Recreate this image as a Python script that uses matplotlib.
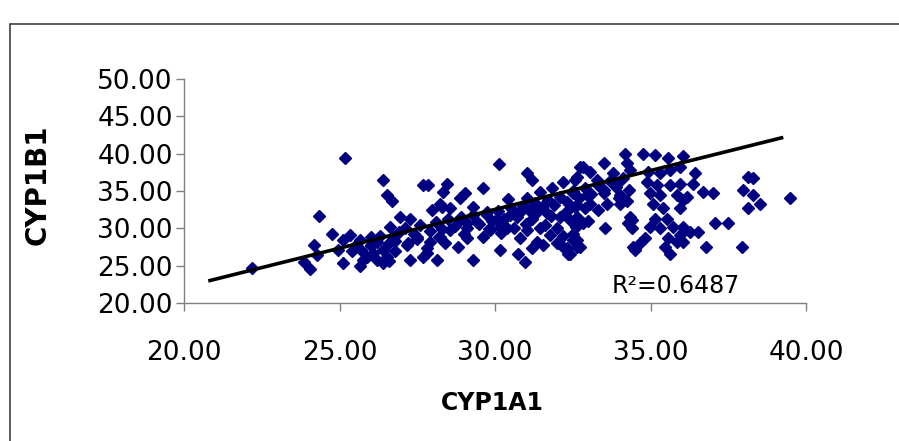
import numpy as np
import matplotlib
matplotlib.use("Agg")
import matplotlib.pyplot as plt
from matplotlib.patches import Rectangle

# ---- data ----
cyp1a1 = [
    22.20, 23.85, 24.05, 24.18, 24.27, 24.35, 24.75, 24.96, 25.12,
    25.12, 25.18, 25.34, 25.66, 25.66, 25.77, 26.20, 26.41, 26.52, 26.78,
    26.41, 26.41, 26.52, 26.68, 26.62, 26.73, 26.95, 27.27, 27.16, 27.48,
    27.27, 27.70, 27.80, 27.91, 28.13, 28.23, 28.55, 28.87, 27.70, 27.86,
    28.45, 28.34, 28.87, 29.03, 29.62, 27.96, 28.23, 28.55, 28.29, 29.30,
    29.09, 26.09, 25.50, 26.00,
    30.14, 31.02, 31.18, 32.20, 32.63, 32.73, 31.82, 31.45, 30.43, 31.02,
    29.30, 29.73, 30.05, 30.48, 30.80, 31.34, 31.66, 32.09, 32.41, 32.57,
    29.09, 29.41, 29.84, 30.16, 30.80, 31.02, 31.45, 31.77, 31.34, 31.18,
    31.55, 31.98, 32.30, 30.75, 30.96, 30.16, 32.52, 32.41, 32.20, 32.36,
    32.73, 32.63, 33.54, 34.40, 34.45, 34.24, 32.84, 33.49,
    34.18, 34.77, 35.14, 35.57, 36.06, 33.05, 33.80, 34.34, 34.93, 35.30,
    35.63, 35.95, 32.57, 33.27, 33.91, 34.88, 35.20, 35.63, 35.95, 32.52,
    32.95, 33.49, 34.02, 34.98, 35.30, 35.84, 36.16, 32.63, 33.05, 34.02,
    34.24, 35.09, 35.41, 35.95, 32.63, 32.84, 32.52, 34.34, 34.29, 34.40,
    35.14, 35.52, 34.98, 35.30, 35.73, 35.95, 35.57, 34.82, 34.66, 34.50,
    35.46, 35.84, 32.63, 35.63,
    36.43, 36.38, 36.70, 37.02, 36.06, 38.15, 38.31, 37.99, 38.31, 38.52,
    38.15, 39.49, 36.06, 36.27, 36.54, 37.07, 37.50, 36.06, 36.80, 37.93,
    26.30, 26.60, 26.90, 27.10, 27.40, 27.60, 27.90, 28.10, 28.30, 28.50,
    28.70, 28.90, 29.10, 29.30, 29.50, 29.70, 29.90, 30.10, 30.30, 30.50,
    30.70, 30.90, 31.10, 31.30, 31.50, 31.70, 31.90, 32.10, 32.30, 32.50,
    32.70, 32.90, 33.10, 33.30, 33.50, 33.70, 33.90, 34.10, 34.30,
    27.20, 27.80, 28.40, 28.80, 29.60, 30.20, 30.60, 31.00, 31.60, 32.00,
    32.20, 32.60, 33.00, 33.30, 33.60, 34.00, 32.30, 32.90, 31.80, 31.20,
    30.40, 29.80, 29.00, 28.20, 27.50, 26.80, 26.00, 25.70, 25.40, 25.90,
    26.20, 26.60, 26.00,
]
cyp1b1 = [
    24.70, 25.50, 24.60, 27.80, 26.40, 31.70, 29.30, 27.10, 28.40,
    25.30, 39.40, 29.10, 28.40, 25.00, 25.80, 28.20, 27.10, 26.20, 26.90,
    25.30, 36.50, 34.40, 33.60, 30.20, 28.90, 31.50, 31.30, 27.80, 28.90,
    25.80, 26.10, 26.70, 28.20, 25.80, 28.90, 29.80, 31.10, 35.80, 35.80,
    36.00, 34.90, 34.00, 34.70, 35.40, 32.40, 33.30, 32.70, 32.90, 25.80,
    28.70, 26.70, 27.60, 27.80,
    38.60, 37.40, 36.50, 36.20, 36.90, 38.20, 35.40, 34.90, 33.90, 34.00,
    32.90, 32.20, 31.30, 31.80, 32.20, 32.20, 32.00, 31.55, 31.10, 32.90,
    30.70, 30.90, 29.80, 30.20, 28.70, 29.80, 30.00, 29.10, 28.20, 27.30,
    27.80, 28.00, 27.30, 26.60, 25.50, 27.10, 28.40, 26.60, 27.50, 26.60,
    27.50, 28.40, 30.00, 31.10, 27.50, 38.70, 38.20, 38.70,
    40.00, 40.00, 39.80, 39.40, 39.70, 37.60, 37.40, 37.80, 37.60, 37.40,
    37.80, 38.20, 36.50, 36.50, 36.00, 36.20, 35.80, 35.80, 36.00, 34.70,
    34.50, 34.70, 34.50, 34.70, 34.50, 34.50, 34.20, 33.10, 33.30, 33.30,
    33.60, 33.30, 32.70, 32.70, 31.55, 30.70, 29.30, 31.55, 30.70, 30.00,
    31.30, 31.30, 30.20, 30.00, 30.20, 29.10, 28.70, 28.70, 28.00, 27.10,
    27.50, 28.20, 27.50, 26.60,
    37.40, 36.00, 34.90, 34.70, 33.80, 36.90, 36.70, 35.10, 34.50, 33.30,
    32.70, 34.00, 30.20, 29.50, 29.50, 30.70, 30.70, 28.20, 27.50, 27.50,
    29.00, 28.00, 29.50, 30.00, 29.20, 30.40, 29.60, 30.80, 29.90, 31.20,
    30.30, 31.50, 30.10, 31.80, 30.60, 31.90, 31.00, 32.30, 31.30, 32.70,
    31.50, 33.00, 32.50, 33.40, 32.80, 33.80, 33.10, 34.20, 33.50, 35.00,
    34.10, 35.40, 34.60, 35.80, 35.10, 36.30, 35.50, 36.80, 35.20,
    28.00, 27.40, 28.10, 27.50, 28.90, 29.40, 30.00, 30.60, 30.40, 30.00,
    29.00, 30.20, 31.00, 32.40, 33.30, 34.00, 32.30, 32.70, 31.60, 31.20,
    30.10, 29.90, 29.30, 28.80, 28.60, 28.30, 27.60, 27.10, 26.90, 26.20,
    25.70, 25.60, 28.90,
]
x_ticks = [20, 25, 30, 35, 40]
y_ticks = [20, 25, 30, 35, 40, 45, 50]
trend_x = [20.78, 39.27]
trend_slope = 1.04
trend_intercept = 1.34
r2_label = "R\u00b2=0.6487"
x_label = "CYP1A1"
y_label = "CYP1B1"

W, H = 899, 441
fig = plt.figure(figsize=(W / 100, H / 100), dpi=100)
fig.patch.set_facecolor("white")

# outer chart border (extends past right and bottom edges)
fig.patches.append(Rectangle((10 / W, -0.2), 1.5, (H - 24) / H + 0.2,
                             transform=fig.transFigure, fill=False,
                             edgecolor="#404040", lw=1.2))

ax = fig.add_axes([184 / W, 1 - 303 / H, 622 / W, 224 / H])
ax.set_xlim(20, 40)
ax.set_ylim(20, 50)

ax.plot(cyp1a1, cyp1b1, linestyle="none", marker="D", ms=6.6,
        color="#000080", mec="#000080", zorder=2, clip_on=False)

tx = np.array(trend_x)
ax.plot(tx, trend_slope * tx + trend_intercept, color="black", lw=2.6,
        zorder=3, solid_capstyle="butt")

for s in ("top", "right"):
    ax.spines[s].set_visible(False)
for s in ("left", "bottom"):
    ax.spines[s].set_color("#808080")
    ax.spines[s].set_linewidth(1.0)

ax.set_xticks(x_ticks)
ax.set_yticks(y_ticks)
ax.set_xticklabels([f"{v:.2f}" for v in x_ticks])
ax.set_yticklabels([f"{v:.2f}" for v in y_ticks])
ax.tick_params(axis="both", direction="out", length=6, width=1,
               color="#808080", labelsize=19, labelcolor="black")
ax.tick_params(axis="x", pad=21)
ax.tick_params(axis="y", pad=2)

ax.text(33.76, 23.9, r2_label, fontsize=17, va="top", ha="left",
        clip_on=True, zorder=4)

fig.text(38 / W, 1 - 185 / H, y_label, rotation=90, ha="center",
         va="center", fontsize=20, fontweight="bold")
fig.text(492 / W, 1 - 403 / H, x_label, ha="center", va="center",
         fontsize=17, fontweight="bold")

fig.savefig("out.png", dpi=100, facecolor="white")
